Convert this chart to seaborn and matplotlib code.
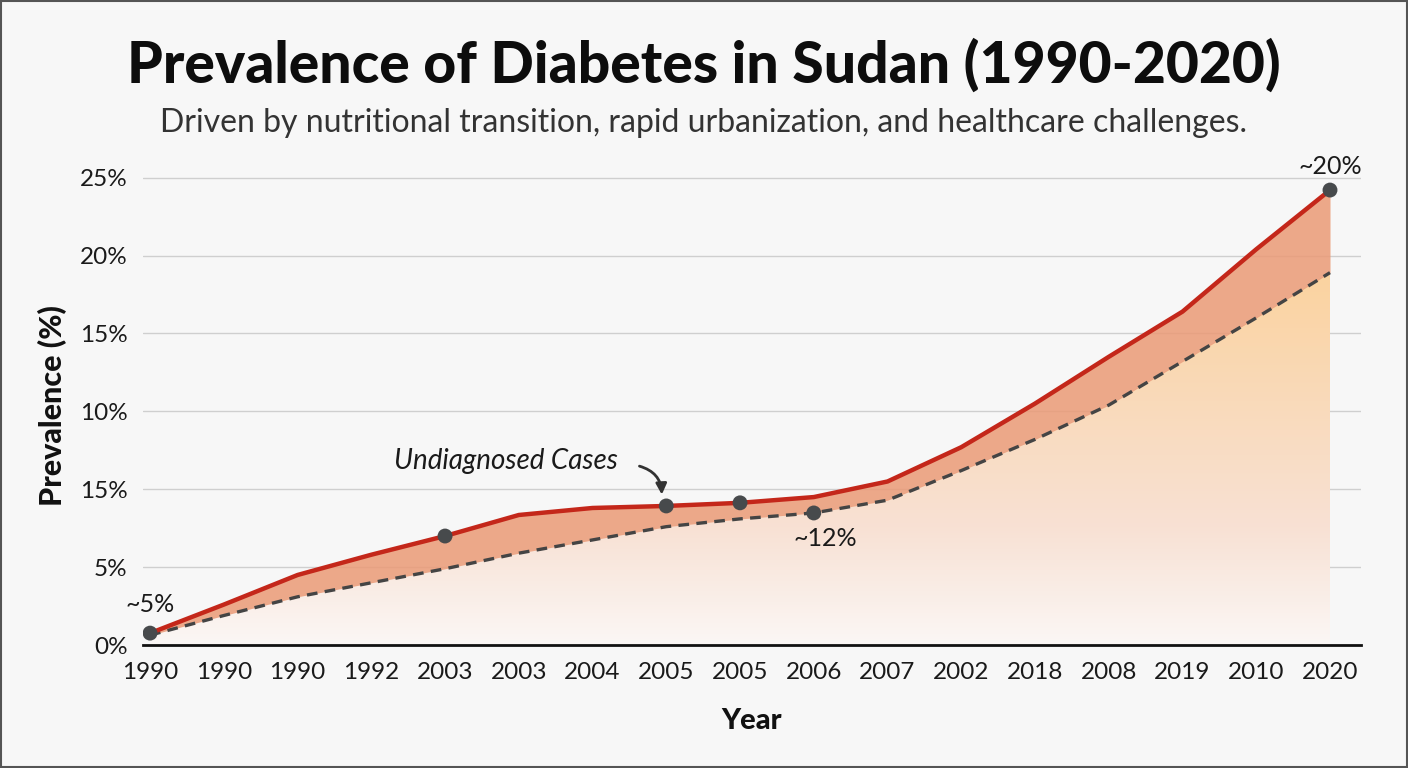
import numpy as np
import pandas as pd
import matplotlib
matplotlib.use("Agg")
import matplotlib.pyplot as plt
from matplotlib.colors import LinearSegmentedColormap
from matplotlib.patches import Rectangle
import seaborn as sns

# data (tick labels kept as printed)
year_labels = ["1990", "1990", "1990", "1992", "2003", "2003", "2004", "2005", "2005",
               "2006", "2007", "2002", "2018", "2008", "2019", "2010", "2020"]
total_prev = [0.77, 2.6, 4.5, 5.8, 7.0, 8.35, 8.8, 8.93, 9.13, 9.5, 10.5, 12.7,
              15.5, 18.5, 21.4, 25.4, 29.2]
diagnosed_prev = [0.64, 1.9, 3.1, 4.0, 4.9, 5.9, 6.75, 7.6, 8.1, 8.48, 9.3, 11.2,
                  13.2, 15.4, 18.2, 21.0, 23.9]
y_tick_vals = [0, 5, 10, 15, 20, 25, 30]
y_tick_labels = ["0%", "5%", "15%", "10%", "15%", "20%", "25%"]

df = pd.DataFrame({"idx": range(len(year_labels)), "total": total_prev,
                   "diagnosed": diagnosed_prev})

sns.set_theme(style="white")
plt.rcParams["font.family"] = ["Lato", "DejaVu Sans"]

bg = "#f7f7f7"
fig = plt.figure(figsize=(14.08, 7.68), dpi=100, facecolor=bg)
ax = fig.add_axes([0.1016, 0.160, 0.865, 0.625])
ax.set_facecolor(bg)

x = df["idx"].values
y_top = df["total"].values
y_dia = df["diagnosed"].values

# gradient under the diagnosed line
cmap = LinearSegmentedColormap.from_list(
    "warm", [(0.0, "#fbf7f5"), (0.3, "#f8e1d4"), (1.0, "#fbd29c")])
grad = np.linspace(0, 1, 256).reshape(-1, 1)
img = ax.imshow(grad, cmap=cmap, aspect="auto", origin="lower",
                extent=[x[0], x[-1], 0, 25], zorder=1)
under = ax.fill_between(x, 0, y_dia, color="none", lw=0)
img.set_clip_path(under.get_paths()[0], transform=ax.transData)

# undiagnosed band
ax.fill_between(x, y_dia, y_top, color="#eb9a76", alpha=0.85, lw=0, zorder=2)

sns.lineplot(data=df, x="idx", y="diagnosed", ax=ax, color="#444444", lw=2.4,
             linestyle=(0, (3.2, 2.2)), zorder=3)
sns.lineplot(data=df, x="idx", y="total", ax=ax, color="#c4271a", lw=3.2, zorder=4)

red_pts = df.iloc[[0, 4, 7, 8, 16]]
sns.scatterplot(x=red_pts["idx"], y=red_pts["total"], ax=ax, color="#474a4c",
                s=115, edgecolor="none", zorder=5)
dash_pt = df.iloc[[9]]
sns.scatterplot(x=dash_pt["idx"], y=dash_pt["diagnosed"], ax=ax, color="#474a4c",
                s=115, edgecolor="none", zorder=5)

# annotations
ax.text(x[0], y_top[0] + 1.1, "~5%", ha="center", va="bottom", fontsize=18, color="#1a1a1a")
ax.text(x[9] + 0.15, y_dia[9] - 0.9, "~12%", ha="center", va="top", fontsize=18, color="#1a1a1a")
ax.text(x[16], y_top[16] + 0.8, "~20%", ha="center", va="bottom", fontsize=18, color="#1a1a1a")
ax.text(x[5] - 0.18, 11.8, "Undiagnosed Cases", ha="center", va="center", fontsize=20,
        style="italic", color="#1a1a1a")
ax.annotate("", xy=(x[7] - 0.06, y_top[7] + 0.55), xytext=(x[7] - 0.4, y_top[7] + 2.6),
            arrowprops=dict(arrowstyle="-|>", color="#333333", lw=2.0,
                            connectionstyle="arc3,rad=-0.4", mutation_scale=16))

# axes styling
ax.set_xlim(-0.095, 16.42)
ax.set_ylim(0, 30.8)
ax.set_xticks(x)
ax.set_xticklabels(year_labels)
ax.set_yticks(y_tick_vals)
ax.set_yticklabels(y_tick_labels)
ax.tick_params(axis="both", length=0, labelsize=17.5, colors="#1a1a1a")
ax.tick_params(axis="x", pad=12)
ax.tick_params(axis="y", pad=11)
ax.yaxis.grid(True, color="#cfcfcf", lw=1)
ax.set_axisbelow(True)
for s in ["top", "right", "left"]:
    ax.spines[s].set_visible(False)
ax.spines["bottom"].set_color("#111111")
ax.spines["bottom"].set_linewidth(2)
ax.spines["bottom"].set_zorder(6)

ax.set_xlabel("Year", fontsize=21, fontweight="black", labelpad=18, color="#111111")
ax.set_ylabel("Prevalence (%)", fontsize=22, fontweight="black", labelpad=9, color="#111111")

fig.text(0.5, 0.915, "Prevalence of Diabetes in Sudan (1990-2020)", ha="center",
         va="center", fontsize=41, fontweight="black", color="#0d0d0d")
fig.text(0.5, 0.840, "Driven by nutritional transition, rapid urbanization, and healthcare challenges.",
         ha="center", va="center", fontsize=23, color="#333333")

fig.patches.append(Rectangle((0.001, 0.001), 0.998, 0.998, transform=fig.transFigure,
                             fill=False, edgecolor="#555555", lw=1.5))

fig.savefig("out.png", dpi=100, facecolor=bg)
